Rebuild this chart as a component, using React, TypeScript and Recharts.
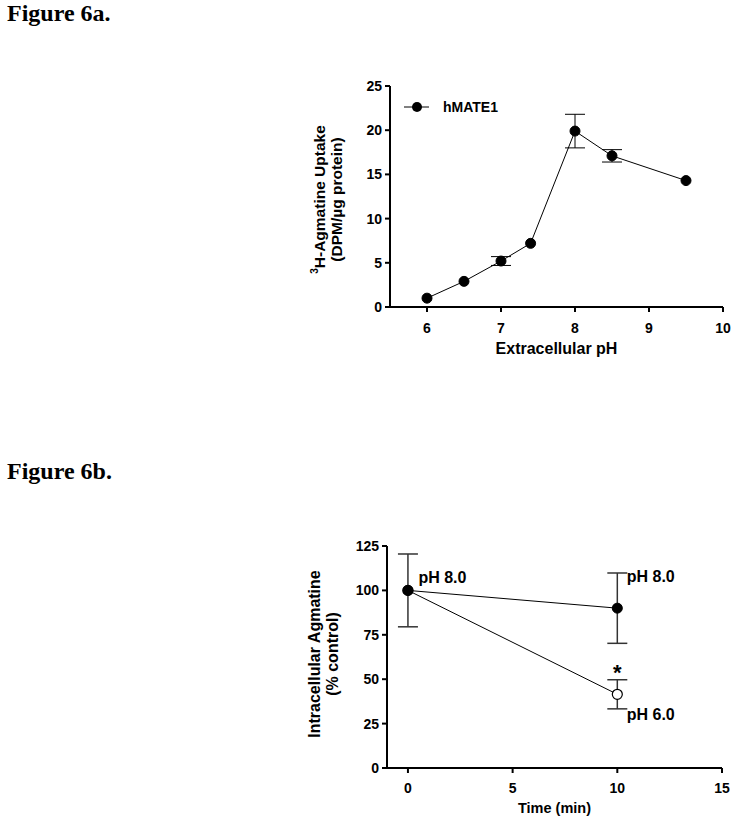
import React from 'react';
import {
  LineChart,
  Line,
  XAxis,
  YAxis,
  ErrorBar,
  ReferenceDot,
} from 'recharts';

// Figure 6a: uptake vs extracellular pH
const phValues = [6, 6.5, 7, 7.4, 8, 8.5, 9.5];
const uptakeValues = [1.0, 2.9, 5.2, 7.2, 19.9, 17.1, 14.3];
const uptakeErrors = [0, 0, 0.5, 0, 1.9, 0.7, 0];
const phTicks = [6, 7, 8, 9, 10];
const uptakeTicks = [0, 5, 10, 15, 20, 25];

// Figure 6b: intracellular agmatine over time
const timePoints = [0, 10];
const ph8Values = [100, 90];
const ph8Errors = [20.5, 19.8];
const ph6Values = [100, 41.5];
const ph6Errors = [0, 8.2];
const timeTicks = [0, 5, 10, 15];
const agmatineTicks = [0, 25, 50, 75, 100, 125];

const annotations = [
  { x: 0.5, y: 107, text: 'pH 8.0', anchor: 'start', size: 16 },
  { x: 10.45, y: 108, text: 'pH 8.0', anchor: 'start', size: 16 },
  { x: 10.45, y: 30, text: 'pH 6.0', anchor: 'start', size: 16 },
  { x: 10, y: 54, text: '*', anchor: 'middle', size: 22 },
];

const uptakeData = phValues.map((ph, i) => ({
  ph,
  uptake: uptakeValues[i],
  err: uptakeErrors[i],
}));
const ph8Data = timePoints.map((t, i) => ({ t, v: ph8Values[i], err: ph8Errors[i] }));
const ph6Data = timePoints.map((t, i) => ({ t, v: ph6Values[i], err: ph6Errors[i] }));

const FONT = '"Liberation Sans", Arial, sans-serif';
const axisLine = { stroke: '#000', strokeWidth: 2 };
const tickStyle = { fill: '#000', fontSize: 14, fontWeight: 700, fontFamily: FONT };

const titleStyle: React.CSSProperties = {
  position: 'absolute',
  left: 7,
  fontFamily: '"Liberation Serif", "Times New Roman", serif',
  fontWeight: 700,
  fontSize: 24,
  color: '#000',
};

const yLabel = (lines: React.ReactNode[], xs: number[], shift: number, size: number) => (props: any) => {
  const vb = props.viewBox;
  const cy = vb.y + vb.height / 2 + shift;
  return (
    <g>
      {lines.map((ln, i) => (
        <text
          key={i}
          x={xs[i]}
          y={cy}
          transform={`rotate(-90, ${xs[i]}, ${cy})`}
          textAnchor="middle"
          dominantBaseline="central"
          fontFamily={FONT}
          fontWeight={700}
          fontSize={size}
          fill="#000"
        >
          {ln}
        </text>
      ))}
    </g>
  );
};

const xLabel = (text: string, dy: number, size: number) => (props: any) => {
  const vb = props.viewBox;
  return (
    <text
      x={vb.x + vb.width / 2}
      y={vb.y + dy}
      textAnchor="middle"
      dominantBaseline="central"
      fontFamily={FONT}
      fontWeight={700}
      fontSize={size}
      fill="#000"
    >
      {text}
    </text>
  );
};

const UptakeChart = () => (
  <LineChart
    width={447}
    height={300}
    data={uptakeData}
    margin={{ top: 26, right: 14, bottom: 23, left: 60 }}
  >
    <XAxis
      dataKey="ph"
      type="number"
      domain={[5.5, 10]}
      ticks={phTicks}
      allowDataOverflow
      height={30}
      axisLine={axisLine}
      tickLine={axisLine}
      tickSize={5}
      tickMargin={11}
      tick={tickStyle}
      label={{ content: xLabel('Extracellular pH', 41, 16) }}
    />
    <YAxis
      type="number"
      domain={[0, 25]}
      ticks={uptakeTicks}
      width={40}
      axisLine={axisLine}
      tickLine={axisLine}
      tickSize={5}
      tickMargin={3}
      tick={tickStyle}
      label={{
        content: yLabel(
          [
            <>
              <tspan fontSize={10} dy={-5}>3</tspan>
              <tspan dy={5}>H-Agmatine Uptake</tspan>
            </>,
            '(DPM/\u00b5g protein)',
          ],
          [29, 46],
          3,
          15.5
        ),
      }}
    />
    <Line
      dataKey="uptake"
      stroke="#000"
      strokeWidth={1}
      dot={{ r: 5, fill: '#000', stroke: '#000', strokeWidth: 1 }}
      isAnimationActive={false}
    >
      <ErrorBar dataKey="err" width={10} stroke="#000" strokeWidth={1} />
    </Line>
  </LineChart>
);

const TimeChart = () => (
  <LineChart
    width={447}
    height={300}
    margin={{ top: 26, right: 15, bottom: 22, left: 57 }}
  >
    <XAxis
      dataKey="t"
      type="number"
      domain={[-1, 15]}
      ticks={timeTicks}
      allowDataOverflow
      height={30}
      axisLine={axisLine}
      tickLine={axisLine}
      tickSize={5}
      tickMargin={10}
      tick={tickStyle}
      label={{ content: xLabel('Time (min)', 40, 14.5) }}
    />
    <YAxis
      type="number"
      domain={[0, 125]}
      ticks={agmatineTicks}
      width={40}
      axisLine={axisLine}
      tickLine={axisLine}
      tickSize={5}
      tickMargin={3}
      tick={tickStyle}
      label={{
        content: yLabel(['Intracellular Agmatine', '(% control)'], [24, 42], -3, 16),
      }}
    />
    <Line
      data={ph6Data}
      dataKey="v"
      stroke="#000"
      strokeWidth={1}
      dot={{ r: 5, fill: '#fff', stroke: '#000', strokeWidth: 1.2 }}
      isAnimationActive={false}
    >
      <ErrorBar dataKey="err" width={10} stroke="#333" strokeWidth={1.5} />
    </Line>
    <Line
      data={ph8Data}
      dataKey="v"
      stroke="#000"
      strokeWidth={1}
      dot={{ r: 5, fill: '#000', stroke: '#000', strokeWidth: 1 }}
      isAnimationActive={false}
    >
      <ErrorBar dataKey="err" width={10} stroke="#333" strokeWidth={1.5} />
    </Line>
    {annotations.map((a, i) => (
      <ReferenceDot
        key={i}
        x={a.x}
        y={a.y}
        r={0}
        ifOverflow="visible"
        shape={(p: any) => (
          <text
            x={p.cx}
            y={p.cy}
            textAnchor={a.anchor as any}
            dominantBaseline="central"
            fontFamily={FONT}
            fontWeight={700}
            fontSize={a.size}
            fill="#000"
          >
            {a.text}
          </text>
        )}
      />
    ))}
  </LineChart>
);

export default function App() {
  return (
    <div
      style={{
        position: 'absolute',
        left: 0,
        top: 0,
        width: 737,
        height: 824,
        background: '#fff',
      }}
    >
      <div style={{ ...titleStyle, top: 0 }}>Figure 6a.</div>
      <div style={{ ...titleStyle, top: 458 }}>Figure 6b.</div>

      <div style={{ position: 'absolute', left: 290, top: 60 }}>
        <UptakeChart />
      </div>
      {/* legend drawn as an overlay so it doesn't shift the plot area */}
      <div
        style={{
          position: 'absolute',
          left: 403,
          top: 97,
          display: 'flex',
          alignItems: 'center',
          fontFamily: FONT,
          fontWeight: 700,
          fontSize: 14,
        }}
      >
        <svg width={27} height={20}>
          <line x1={1} y1={10} x2={26} y2={10} stroke="#000" strokeWidth={1} />
          <circle cx={14} cy={10} r={5} fill="#000" />
        </svg>
        <span style={{ marginLeft: 13 }}>hMATE1</span>
      </div>

      <div style={{ position: 'absolute', left: 290, top: 520 }}>
        <TimeChart />
      </div>
    </div>
  );
}
